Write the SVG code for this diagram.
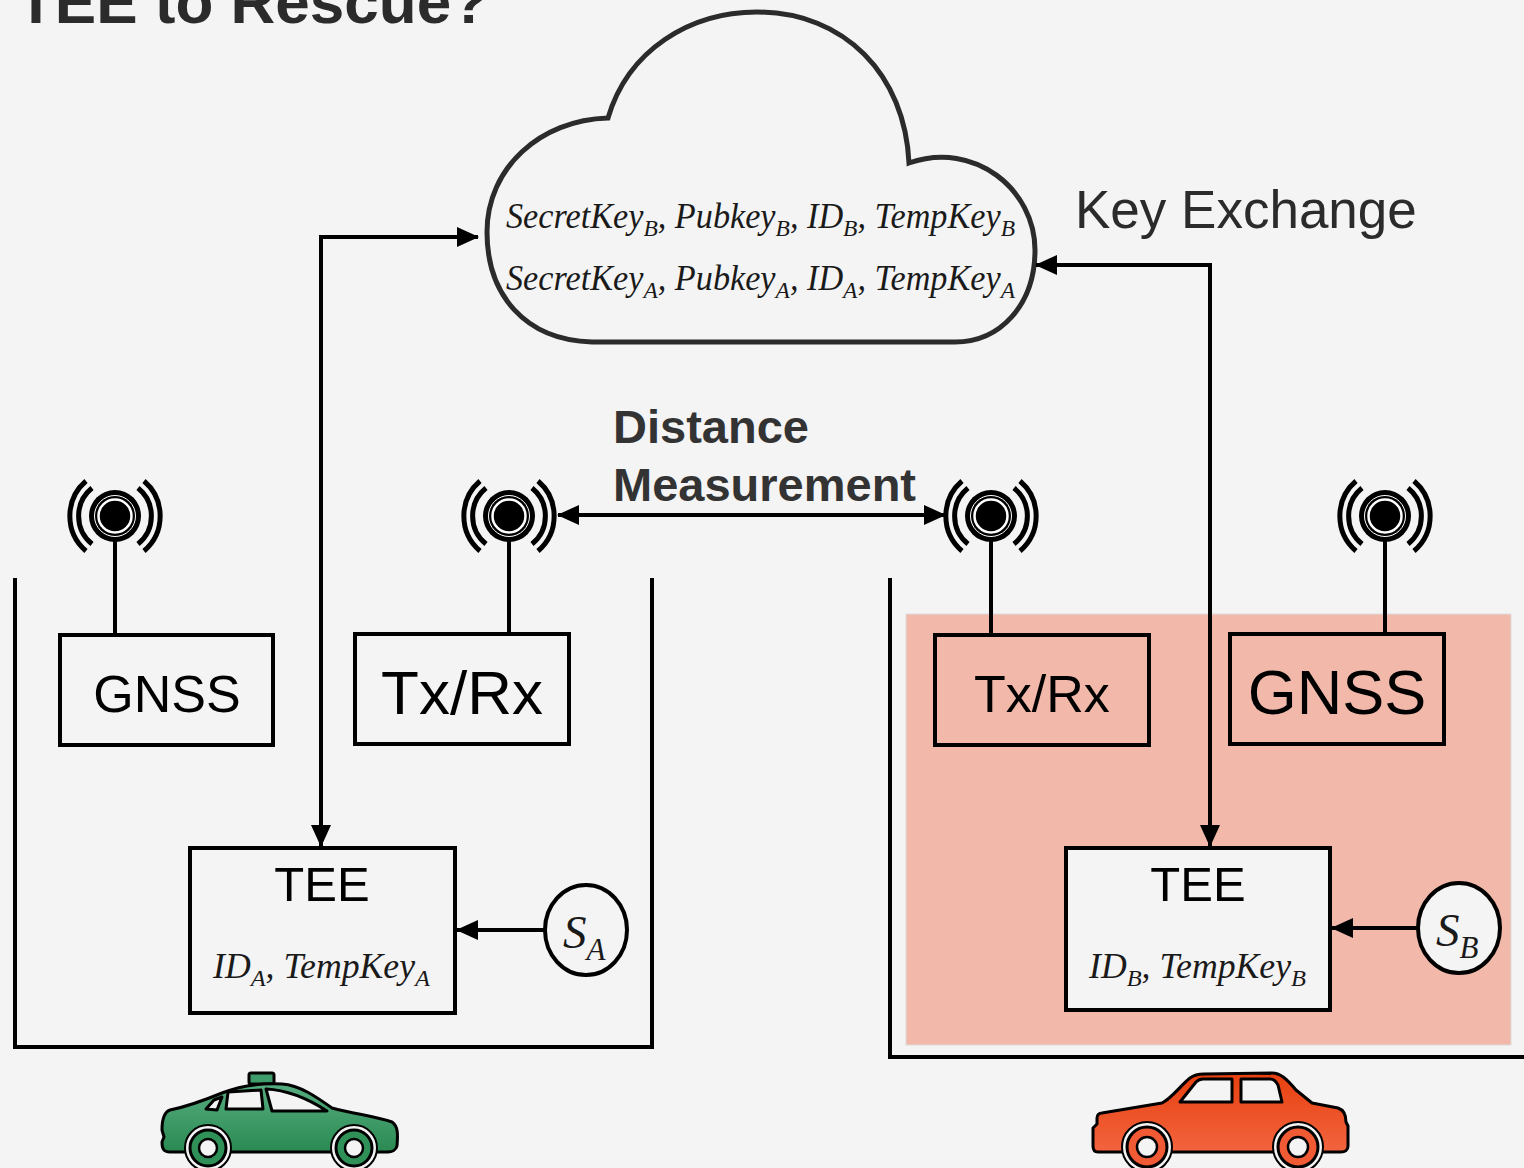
<svg xmlns="http://www.w3.org/2000/svg" width="1524" height="1168" viewBox="0 0 1524 1168">
  <style>
    .sans { font-family: "Liberation Sans", Arial, sans-serif; fill: #000; }
    .math { font-family: "Liberation Serif", "Times New Roman", serif; font-style: italic; fill: #1a1a1a; }
    .box { fill: none; stroke: #000; stroke-width: 4; }
    .wall { fill: none; stroke: #000; stroke-width: 4; }
    .link { fill: none; stroke: #000; stroke-width: 4; }
    .arc { fill: none; stroke: #000; stroke-width: 5; }
    .car-line { stroke: #000; stroke-width: 3; stroke-linejoin: round; }
  </style>
  <defs>
    <marker id="head" viewBox="0 0 22 20" refX="21" refY="10" markerWidth="22" markerHeight="20" markerUnits="userSpaceOnUse" orient="auto-start-reverse">
      <path d="M0 0 L22 10 L0 20 Z" fill="#000"/>
    </marker>
    <linearGradient id="greenBody" x1="0" y1="0" x2="0" y2="1">
      <stop offset="0" stop-color="#56ad80"/>
      <stop offset="1" stop-color="#2a8a52"/>
    </linearGradient>
    <linearGradient id="redBody" x1="0" y1="0" x2="0" y2="1">
      <stop offset="0" stop-color="#e8400f"/>
      <stop offset="1" stop-color="#f2643f"/>
    </linearGradient>
    <g id="antenna">
      <circle r="26" fill="#000"/>
      <circle r="20.5" fill="none" stroke="#fff" stroke-width="1"/>
      <circle r="16.5" fill="none" stroke="#fff" stroke-width="2.5"/>
      <path class="arc" d="M-23 -28 A36 36 0 0 0 -23 28"/>
      <path class="arc" d="M23 -28 A36 36 0 0 1 23 28"/>
      <path class="arc" d="M-29 -35 A46 46 0 0 0 -29 35"/>
      <path class="arc" d="M29 -35 A46 46 0 0 1 29 35"/>
    </g>
  </defs>

  <rect width="1524" height="1168" fill="#f4f4f4"/>

  <!-- heading, clipped by the top edge -->
  <text class="sans" x="17" y="23" font-size="62" font-weight="bold" style="fill:#2b2b2b">TEE to Rescue?</text>

  <!-- vehicle B trusted zone -->
  <rect x="906" y="614" width="605" height="431" fill="#f2b9aa" stroke="#dcdcdc" stroke-width="1"/>

  <!-- vehicle outlines -->
  <g id="vehicle-a-frame">
    <path class="wall" d="M15 578 V1047 H652 V578"/>
  </g>
  <g id="vehicle-b-frame">
    <path class="wall" d="M890 578 V1057 H1524"/>
  </g>

  <!-- key server cloud -->
  <g id="cloud">
    <path d="M592 342 C525 340 487 295 487 232 C487 168 540 120 608 118 C628 50 690 12 757 12 C845 12 905 75 909 163 C975 140 1035 190 1035 250 C1035 305 1000 342 955 342 Z" fill="#f4f4f4" stroke="#2b2b2b" stroke-width="5"/>
    <text class="math" x="506" y="228" font-size="35" textLength="509" lengthAdjust="spacingAndGlyphs">SecretKey<tspan font-size="24" dy="8">B</tspan><tspan dy="-8">, Pubkey</tspan><tspan font-size="24" dy="8">B</tspan><tspan dy="-8">, ID</tspan><tspan font-size="24" dy="8">B</tspan><tspan dy="-8">, TempKey</tspan><tspan font-size="24" dy="8">B</tspan></text>
    <text class="math" x="506" y="290" font-size="35" textLength="509" lengthAdjust="spacingAndGlyphs">SecretKey<tspan font-size="24" dy="8">A</tspan><tspan dy="-8">, Pubkey</tspan><tspan font-size="24" dy="8">A</tspan><tspan dy="-8">, ID</tspan><tspan font-size="24" dy="8">A</tspan><tspan dy="-8">, TempKey</tspan><tspan font-size="24" dy="8">A</tspan></text>
  </g>

  <g id="label-key-exchange">
    <text class="sans" x="1075" y="228" font-size="53" style="fill:#2b2b2b">Key Exchange</text>
  </g>
  <g id="label-distance">
    <text class="sans" x="613" y="443" font-size="47" font-weight="bold" style="fill:#333">Distance</text>
    <text class="sans" x="613" y="501" font-size="47" font-weight="bold" style="fill:#333">Measurement</text>
  </g>

  <!-- antennas with their masts -->
  <g id="antenna-gnss-a">
    <line x1="115" y1="530" x2="115" y2="636" stroke="#000" stroke-width="4"/>
    <use href="#antenna" x="115" y="516"/>
  </g>
  <g id="antenna-txrx-a">
    <line x1="509" y1="530" x2="509" y2="636" stroke="#000" stroke-width="4"/>
    <use href="#antenna" x="509" y="516"/>
  </g>
  <g id="antenna-txrx-b">
    <line x1="991" y1="530" x2="991" y2="637" stroke="#000" stroke-width="4"/>
    <use href="#antenna" x="991" y="516"/>
  </g>
  <g id="antenna-gnss-b">
    <line x1="1385" y1="530" x2="1385" y2="636" stroke="#000" stroke-width="4"/>
    <use href="#antenna" x="1385" y="516"/>
  </g>

  <!-- vehicle A modules -->
  <g id="gnss-a">
    <rect class="box" x="60" y="635" width="213" height="110"/>
    <text class="sans" x="167" y="712" font-size="52" text-anchor="middle">GNSS</text>
  </g>
  <g id="txrx-a">
    <rect class="box" x="355" y="634" width="214" height="110"/>
    <text class="sans" x="462" y="714" font-size="62" text-anchor="middle">Tx/Rx</text>
  </g>
  <g id="tee-a">
    <rect class="box" x="190" y="848" width="265" height="165"/>
    <text class="sans" x="322" y="901" font-size="49" text-anchor="middle">TEE</text>
    <text class="math" x="213" y="978" font-size="35" textLength="217" lengthAdjust="spacingAndGlyphs">ID<tspan font-size="24" dy="8">A</tspan><tspan dy="-8">, TempKey</tspan><tspan font-size="24" dy="8">A</tspan></text>
  </g>
  <g id="sensor-a">
    <ellipse cx="586" cy="930" rx="41" ry="45" fill="#f4f4f4" stroke="#000" stroke-width="4"/>
    <text class="math" x="563" y="948" font-size="47">S<tspan font-size="31" dy="12">A</tspan></text>
  </g>

  <!-- vehicle B modules -->
  <g id="txrx-b">
    <rect class="box" x="935" y="635" width="214" height="110"/>
    <text class="sans" x="1042" y="712" font-size="52" text-anchor="middle">Tx/Rx</text>
  </g>
  <g id="gnss-b">
    <rect class="box" x="1230" y="634" width="214" height="110"/>
    <text class="sans" x="1337" y="714" font-size="63" text-anchor="middle">GNSS</text>
  </g>
  <g id="tee-b">
    <rect x="1066" y="848" width="264" height="162" fill="#f4f4f4" stroke="#000" stroke-width="4"/>
    <text class="sans" x="1198" y="901" font-size="49" text-anchor="middle">TEE</text>
    <text class="math" x="1089" y="978" font-size="35" textLength="217" lengthAdjust="spacingAndGlyphs">ID<tspan font-size="24" dy="8">B</tspan><tspan dy="-8">, TempKey</tspan><tspan font-size="24" dy="8">B</tspan></text>
  </g>
  <g id="sensor-b">
    <ellipse cx="1459" cy="928" rx="41" ry="45" fill="#f4f4f4" stroke="#000" stroke-width="4"/>
    <text class="math" x="1436" y="946" font-size="47">S<tspan font-size="31" dy="12">B</tspan></text>
  </g>

  <!-- connectors -->
  <g id="connectors">
    <path class="link" d="M321 846 V237 H478" marker-start="url(#head)" marker-end="url(#head)"/>
    <path class="link" d="M1036 265 H1210 V846" marker-start="url(#head)" marker-end="url(#head)"/>
    <path class="link" d="M558 515 H945" marker-start="url(#head)" marker-end="url(#head)"/>
    <path class="link" d="M544 930 H457" marker-end="url(#head)"/>
    <path class="link" d="M1417 928 H1332" marker-end="url(#head)"/>
  </g>

  <!-- taxi (vehicle A) -->
  <g id="car-a">
    <rect x="249" y="1073" width="25" height="11" rx="2" fill="#3f9d6b" class="car-line"/>
    <path class="car-line" fill="url(#greenBody)" d="M170 1110 C190 1106 205 1100 222 1093 C240 1086 262 1083 282 1084 C300 1085 318 1098 332 1108 C355 1114 378 1117 392 1122 C398 1126 398 1134 397 1146 C396 1150 392 1152 388 1152 L170 1152 C163 1152 162 1148 162 1142 L164 1137 L162 1130 C162 1120 164 1112 170 1110 Z"/>
    <path d="M206 1109 L214 1100 L222 1097 L217 1110 Z" fill="#f4f4f4" class="car-line" stroke-width="2.5"/>
    <path d="M228 1092 L261 1090 L263 1109 L226 1109 Z" fill="#f4f4f4" class="car-line" stroke-width="2.5"/>
    <path d="M266 1089 C288 1090 310 1100 327 1111 L272 1111 Z" fill="#f4f4f4" class="car-line" stroke-width="2.5"/>
    <circle cx="208" cy="1148" r="23" fill="#f4f4f4" stroke="#000" stroke-width="2"/>
    <circle cx="354" cy="1148" r="23" fill="#f4f4f4" stroke="#000" stroke-width="2"/>
    <circle cx="208" cy="1148" r="18" fill="#2f9058" stroke="#000" stroke-width="3"/>
    <circle cx="208" cy="1148" r="9" fill="#f4f4f4" stroke="#000" stroke-width="2.5"/>
    <circle cx="354" cy="1148" r="18" fill="#2f9058" stroke="#000" stroke-width="3"/>
    <circle cx="354" cy="1148" r="9" fill="#f4f4f4" stroke="#000" stroke-width="2.5"/>
  </g>

  <!-- sedan (vehicle B) -->
  <g id="car-b">
    <path class="car-line" fill="url(#redBody)" d="M1102 1113 L1162 1103 C1172 1098 1180 1086 1190 1078 C1194 1075 1198 1074 1204 1074 L1272 1073 C1280 1073 1286 1078 1296 1090 L1312 1103 L1338 1108 C1344 1110 1346 1116 1346 1122 L1348 1126 L1348 1146 C1348 1150 1345 1152 1341 1152 L1098 1152 C1094 1152 1093 1149 1093 1146 L1093 1128 L1097 1124 L1097 1118 C1097 1115 1099 1113 1102 1113 Z"/>
    <path d="M1180 1102 L1196 1082 C1198 1080 1200 1079 1203 1079 L1232 1079 L1232 1102 Z" fill="#f4f4f4" class="car-line" stroke-width="2.5"/>
    <path d="M1241 1079 L1270 1079 C1274 1079 1276 1081 1278 1085 L1282 1102 L1241 1102 Z" fill="#f4f4f4" class="car-line" stroke-width="2.5"/>
    <circle cx="1147" cy="1147" r="25" fill="#f4f4f4" stroke="#000" stroke-width="2"/>
    <circle cx="1298" cy="1147" r="25" fill="#f4f4f4" stroke="#000" stroke-width="2"/>
    <circle cx="1147" cy="1147" r="20" fill="#f05a34" stroke="#000" stroke-width="3"/>
    <circle cx="1147" cy="1147" r="10" fill="#f4f4f4" stroke="#000" stroke-width="2.5"/>
    <circle cx="1298" cy="1147" r="20" fill="#f05a34" stroke="#000" stroke-width="3"/>
    <circle cx="1298" cy="1147" r="10" fill="#f4f4f4" stroke="#000" stroke-width="2.5"/>
  </g>
</svg>
